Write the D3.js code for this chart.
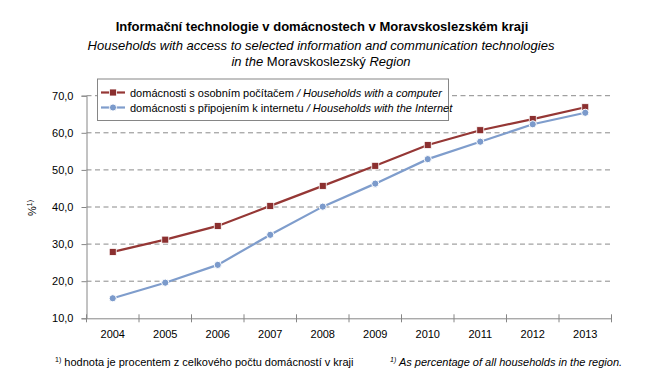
<!DOCTYPE html>
<html>
<head>
<meta charset="utf-8">
<script src="https://cdn.jsdelivr.net/npm/d3@7"></script>
<style>
  body { margin: 0; background: #fff; }
  text { font-family: "Liberation Sans", Arial, sans-serif; fill: #000; }
</style>
</head>
<body>
<script>
var years = ["2004", "2005", "2006", "2007", "2008", "2009", "2010", "2011", "2012", "2013"];
var computer = [27.9, 31.2, 34.9, 40.3, 45.7, 51.1, 56.7, 60.7, 63.7, 66.9];
var internet = [15.4, 19.6, 24.4, 32.5, 40.1, 46.3, 52.9, 57.6, 62.3, 65.4];
var yTicks = [10, 20, 30, 40, 50, 60, 70];

var width = 645, height = 386;
var plot = {left: 86.5, right: 611.5, top: 95.7, bottom: 318.3};

var svg = d3.select("body")
    .append("svg")
        .attr("width", width)
        .attr("height", height);

var x = d3.scaleBand()
    .domain(years)
    .range([plot.left, plot.right]);

var y = d3.scaleLinear()
    .domain([10, 70])
    .range([plot.bottom, plot.top]);

// titles
svg.append("text")
    .attr("x", 322).attr("y", 31)
    .attr("text-anchor", "middle")
    .style("font-size", "13px").style("font-weight", "bold")
    .text("Informační technologie v domácnostech v Moravskoslezském kraji");

svg.append("text")
    .attr("x", 321).attr("y", 50)
    .attr("text-anchor", "middle")
    .style("font-size", "13px").style("font-style", "italic")
    .text("Households with access to selected information and communication technologies");

var sub2 = svg.append("text")
    .attr("x", 321).attr("y", 65.5)
    .attr("text-anchor", "middle")
    .style("font-size", "13px");
sub2.append("tspan").style("font-style", "italic").text("in the ");
sub2.append("tspan").text("Moravskoslezský ");
sub2.append("tspan").style("font-style", "italic").text("Region");

// gridlines
svg.append("g")
    .selectAll("line")
    .data(yTicks.slice(1))
    .enter()
    .append("line")
        .attr("x1", plot.left)
        .attr("x2", plot.right)
        .attr("y1", function(d) { return y(d); })
        .attr("y2", function(d) { return y(d); })
        .attr("stroke", "#8a8a8a")
        .attr("stroke-dasharray", "5,3.5")
        .attr("stroke-width", 1);

// y axis
var yAxis = svg.append("g")
    .attr("transform", "translate(" + plot.left + ",0)")
    .call(d3.axisLeft(y).tickValues(yTicks).tickSize(5).tickPadding(8)
        .tickFormat(function(d) { return d3.format(".1f")(d).replace(".", ","); }));
yAxis.select(".domain").attr("stroke", "#868686");
yAxis.selectAll(".tick line").attr("stroke", "#868686");
yAxis.selectAll(".tick text")
    .style("font-size", "11px")
    .style("font-family", "'Liberation Sans', Arial, sans-serif")
    .attr("fill", "#000");

// x axis
var xAxis = svg.append("g")
    .attr("transform", "translate(0," + plot.bottom + ")")
    .call(d3.axisBottom(x).tickSize(0).tickPadding(12));
xAxis.select(".domain").attr("stroke", "#868686");
xAxis.selectAll(".tick text")
    .style("font-size", "11px")
    .style("font-family", "'Liberation Sans', Arial, sans-serif")
    .attr("fill", "#000");
var bounds = years.map(function(d) { return x(d); }).concat([plot.right]);
xAxis.selectAll(".bound")
    .data(bounds)
    .enter()
    .append("line")
        .attr("x1", function(d) { return d; })
        .attr("x2", function(d) { return d; })
        .attr("y1", -4)
        .attr("y2", 4)
        .attr("stroke", "#868686");

// y label
var ylab = svg.append("text")
    .attr("transform", "translate(36,208) rotate(-90)")
    .attr("text-anchor", "middle")
    .style("font-size", "11px");
ylab.append("tspan").text("%");
ylab.append("tspan").attr("dy", -4).style("font-size", "7px").text("1)");

// series
var series = [
    {name: "computer", values: computer, color: "#953735", marker: "square"},
    {name: "internet", values: internet, color: "#7f9dcc", marker: "circle"}
];

var line = d3.line()
    .x(function(d, i) { return x(years[i]) + x.bandwidth() / 2; })
    .y(function(d) { return y(d); });

series.forEach(function(s) {
    svg.append("path")
        .datum(s.values)
        .attr("fill", "none")
        .attr("stroke", s.color)
        .attr("stroke-width", 2.2)
        .attr("d", line);

    if (s.marker === "square") {
        svg.append("g").selectAll("rect")
            .data(s.values)
            .enter()
            .append("rect")
                .attr("x", function(d, i) { return x(years[i]) + x.bandwidth() / 2 - 3.5; })
                .attr("y", function(d) { return y(d) - 3.5; })
                .attr("width", 7)
                .attr("height", 7)
                .attr("fill", "#8b2f2f")
                .attr("stroke", "#fff")
                .attr("stroke-width", 0.8);
    } else {
        svg.append("g").selectAll("circle")
            .data(s.values)
            .enter()
            .append("circle")
                .attr("cx", function(d, i) { return x(years[i]) + x.bandwidth() / 2; })
                .attr("cy", function(d) { return y(d); })
                .attr("r", 3.6)
                .attr("fill", "#7b9acb")
                .attr("stroke", "#fff")
                .attr("stroke-width", 1);
    }
});

// legend
var legend = svg.append("g");
legend.append("rect")
    .attr("x", 97.5).attr("y", 79)
    .attr("width", 351).attr("height", 41.5)
    .attr("fill", "#fff")
    .attr("stroke", "#868686");

var legendItems = [
    {cz: "domácnosti s osobním počítačem ", en: "/ Households with a computer", s: series[0], cy: 92.5},
    {cz: "domácnosti s připojením k internetu ", en: "/ Households with the Internet", s: series[1], cy: 107.5}
];

legendItems.forEach(function(it) {
    legend.append("line")
        .attr("x1", 101).attr("x2", 125)
        .attr("y1", it.cy).attr("y2", it.cy)
        .attr("stroke", it.s.color)
        .attr("stroke-width", 2.2);
    if (it.s.marker === "square") {
        legend.append("rect")
            .attr("x", 113 - 3.5).attr("y", it.cy - 3.5)
            .attr("width", 7).attr("height", 7)
            .attr("fill", "#8b2f2f").attr("stroke", "#fff").attr("stroke-width", 0.8);
    } else {
        legend.append("circle")
            .attr("cx", 113).attr("cy", it.cy).attr("r", 3.6)
            .attr("fill", "#7b9acb").attr("stroke", "#fff");
    }
    var t = legend.append("text")
        .attr("x", 130).attr("y", it.cy + 4)
        .style("font-size", "11px");
    t.append("tspan").text(it.cz);
    t.append("tspan").style("font-style", "italic").text(it.en);
});

// footnotes
var f1 = svg.append("text")
    .attr("x", 55).attr("y", 366)
    .style("font-size", "11px");
f1.append("tspan").attr("dy", -4).style("font-size", "7px").text("1)");
f1.append("tspan").attr("dy", 4).text(" hodnota je procentem z celkového počtu domácností v kraji");

var f2 = svg.append("text")
    .attr("x", 390).attr("y", 366)
    .style("font-size", "11px")
    .style("font-style", "italic");
f2.append("tspan").attr("dy", -4).style("font-size", "7px").text("1)");
f2.append("tspan").attr("dy", 4).text(" As percentage of all households in the region.");
</script>
</body>
</html>
